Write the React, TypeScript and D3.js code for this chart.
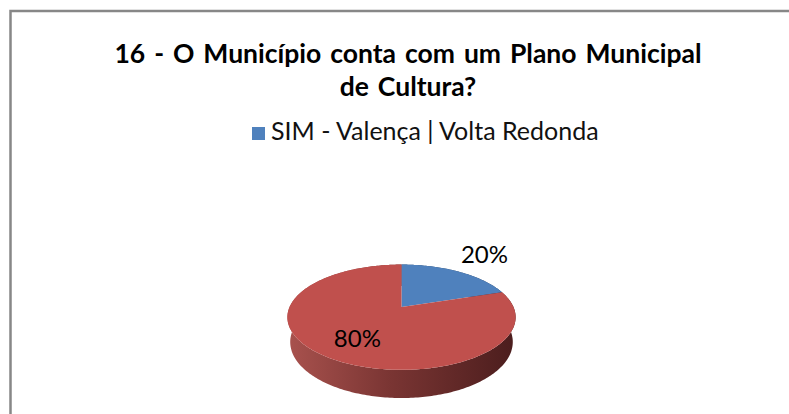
import { useMemo } from "react";
import * as d3 from "d3";

const titleLines = ["16 - O Município conta com um Plano Municipal", "de Cultura?"];
const categories = ["SIM - Valença | Volta Redonda", ""];
const values = [20, 80];
const sliceColors = ["#4f81bd", "#c0504d"];
const sideStops = [
  ["#3c6390", "#2e4c70", "#1f3450"],
  ["#a9524e", "#7a3533", "#4b1d1d"],
];

const W = 789;
const H = 414;

// 3D pie camera (units: pie radius = 1)
const cx = 401.5;
const cy = 307;
const tilt = (26.9 * Math.PI) / 180;
const dist = 4.6;
const focal = 515;
const depth = 0.25;

function project(u: number, v: number, h = 0): [number, number] {
  const y = v * Math.sin(tilt) - h * Math.cos(tilt);
  const z = dist + v * Math.cos(tilt) + h * Math.sin(tilt);
  return [cx + (focal * u) / z, cy - (focal * y) / z];
}

function arcPoints(a0: number, a1: number, r: number, h: number) {
  const n = Math.max(2, Math.ceil(((a1 - a0) * 180) / Math.PI));
  return d3.range(n + 1).map((i) => {
    const a = a0 + ((a1 - a0) * i) / n;
    return project(r * Math.sin(a), r * Math.cos(a), h);
  });
}

export default function App() {
  const arcs = useMemo(() => d3.pie<number>().sort(null)(values), []);
  const line = d3.line();

  return (
    <svg
      width={W}
      height={H}
      style={{ position: "absolute", left: 0, top: 0, background: "#fff" }}
      fontFamily="Lato, 'Open Sans', sans-serif"
    >
      <defs>
        {sideStops.map((s, i) => (
          <linearGradient key={i} id={`side${i}`} gradientUnits="userSpaceOnUse" x1={287} x2={516} y1={0} y2={0}>
            <stop offset="0%" stopColor={s[0]} />
            <stop offset="45%" stopColor={s[1]} />
            <stop offset="100%" stopColor={s[2]} />
          </linearGradient>
        ))}
      </defs>

      <rect x={10.5} y={11} width={820} height={440} fill="none" stroke="#878787" strokeWidth={2.5} />

      {titleLines.map((t, i) => (
        <text
          key={i}
          x={408}
          y={63 + i * 33}
          textAnchor="middle"
          fontSize={26.5}
          wordSpacing={2.5}
          fontWeight="bold"
          fill="#000"
        >
          {t}
        </text>
      ))}

      {categories
        .map((c, i) => ({ c, i }))
        .filter((d) => d.c)
        .map((d) => (
          <g key={d.i}>
            <rect x={252} y={127} width={13} height={13} fill={sliceColors[d.i]} />
            <text x={271} y={140} fontSize={25} fill="#111">
              {d.c}
            </text>
          </g>
        ))}

      {/* side walls */}
      {arcs.map((a, i) => {
        const top = arcPoints(a.startAngle, a.endAngle, 1, 0);
        const bottom = arcPoints(a.startAngle, a.endAngle, 1, depth).reverse();
        return <path key={i} d={line([...top, ...bottom]) + "Z"} fill={`url(#side${i})`} />;
      })}

      {/* top faces */}
      {arcs.map((a, i) => {
        const pts = [project(0, 0), ...arcPoints(a.startAngle, a.endAngle, 1, 0)];
        return <path key={i} d={line(pts) + "Z"} fill={sliceColors[i]} />;
      })}

      {/* labels */}
      {arcs.map((a, i) => {
        const mid = (a.startAngle + a.endAngle) / 2;
        const outside = a.endAngle - a.startAngle < Math.PI / 2;
        const r = outside ? 1.62 : 0.68;
        const [x, y] = project(r * Math.sin(mid), r * Math.cos(mid));
        const pct = Math.round((a.value / d3.sum(values)) * 100);
        return (
          <text key={i} x={x + (outside ? -2 : 6)} y={y + 9} textAnchor="middle" fontSize={24} fill="#000">
            {pct}%
          </text>
        );
      })}
    </svg>
  );
}
